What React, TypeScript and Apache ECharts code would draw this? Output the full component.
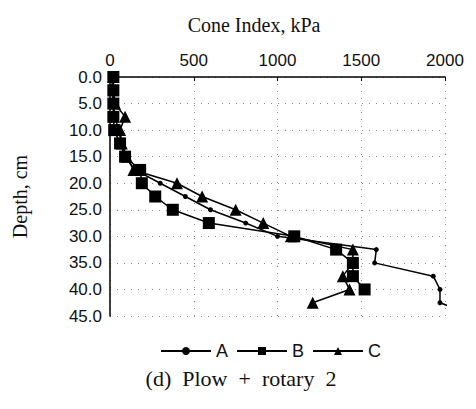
import React, { useEffect, useRef } from "react";
import * as echarts from "echarts";

const depths = [0, 2.5, 5, 7.5, 10, 12.5, 15, 17.5, 20, 22.5, 25, 27.5, 30, 32.5, 35, 37.5, 40, 42.5];
const seriesA = [10, 15, 20, 30, 50, 70, 90, 150, 300, 450, 600, 810, 1000, 1590, 1580, 1930, 1970, 1970];
const seriesAEnd = [2045, 43.4];
const seriesB = [20, 20, 20, 20, 25, 60, 90, 180, 190, 270, 375, 590, 1100, 1350, 1450, 1450, 1520];
const seriesC = [20, 20, 30, 90, 60, 70, 100, 140, 400, 550, 750, 915, 1080, 1450, 1450, 1390, 1430, 1210];
const seriesNames = ["A", "B", "C"];
const xTitle = "Cone Index, kPa";
const yTitle = "Depth, cm";
const caption = "(d)  Plow  +  rotary  2";

const sans = "Liberation Sans";
const serif = "Liberation Serif";

export default function App() {
  const ref = useRef<HTMLDivElement>(null);
  useEffect(() => {
    if (!ref.current) return;
    const chart = echarts.init(ref.current, null, { renderer: "svg" });
    const pairs = (vals: number[]) => vals.map((v, i) => [v, depths[i]]);
    const aData: any[] = pairs(seriesA);
    aData.push({ value: seriesAEnd, symbol: "none" });
    chart.setOption({
      animation: false,
      backgroundColor: "#fff",
      grid: { left: 110, right: 31, top: 77, bottom: 93, containLabel: false },
      xAxis: {
        type: "value",
        position: "top",
        min: 0,
        max: 2000,
        interval: 500,
        axisLine: { show: true, lineStyle: { color: "#000", width: 1.5 } },
        axisTick: { show: true, inside: true, length: 4, lineStyle: { color: "#000" } },
        axisLabel: {
          fontFamily: sans,
          fontSize: 17,
          color: "#111",
          margin: 8,
          formatter: (v: number) => String(v),
        },
        splitLine: { show: true, lineStyle: { color: "#888", type: [1, 6], width: 1 } },
      },
      yAxis: {
        type: "value",
        inverse: true,
        min: 0,
        max: 45,
        interval: 5,
        name: yTitle,
        nameLocation: "middle",
        nameGap: 80,
        nameRotate: 90,
        nameTextStyle: { fontFamily: serif, fontSize: 20, color: "#111" },
        axisLine: { show: true, lineStyle: { color: "#000", width: 1.5 } },
        axisTick: { show: false },
        axisLabel: {
          fontFamily: sans,
          fontSize: 17,
          color: "#111",
          margin: 8,
          formatter: (v: number) => v.toFixed(1),
        },
        splitLine: { show: true, lineStyle: { color: "#888", type: [1, 6], width: 1 } },
      },
      legend: {
        left: 160,
        top: 342,
        itemWidth: 50,
        itemHeight: 10,
        itemGap: 8,
        padding: 0,
        textStyle: { fontFamily: sans, fontSize: 18, color: "#111" },
        data: seriesNames,
      },
      graphic: [
        {
          type: "text",
          x: 254,
          y: 25,
          style: {
            text: xTitle,
            fontFamily: serif,
            fontSize: 20,
            fill: "#111",
            align: "center",
            verticalAlign: "middle",
          },
        },
        {
          type: "text",
          x: 241,
          y: 378,
          style: {
            text: caption,
            fontFamily: serif,
            fontSize: 22,
            fill: "#111",
            align: "center",
            verticalAlign: "middle",
          },
        },
      ],
      series: [
        {
          name: seriesNames[0],
          type: "line",
          data: aData,
          symbol: "circle",
          symbolSize: 5,
          clip: false,
          lineStyle: { color: "#000", width: 1.5 },
          itemStyle: { color: "#000" },
        },
        {
          name: seriesNames[1],
          type: "line",
          data: pairs(seriesB),
          symbol: "rect",
          symbolSize: 12,
          clip: false,
          lineStyle: { color: "#000", width: 1.5 },
          itemStyle: { color: "#000" },
        },
        {
          name: seriesNames[2],
          type: "line",
          data: pairs(seriesC),
          symbol: "triangle",
          symbolSize: 12,
          clip: false,
          lineStyle: { color: "#000", width: 1.5 },
          itemStyle: { color: "#000" },
        },
      ],
    });
    return () => chart.dispose();
  }, []);
  return (
    <div
      ref={ref}
      style={{ position: "absolute", left: 0, top: 0, width: 476, height: 409 }}
    />
  );
}
